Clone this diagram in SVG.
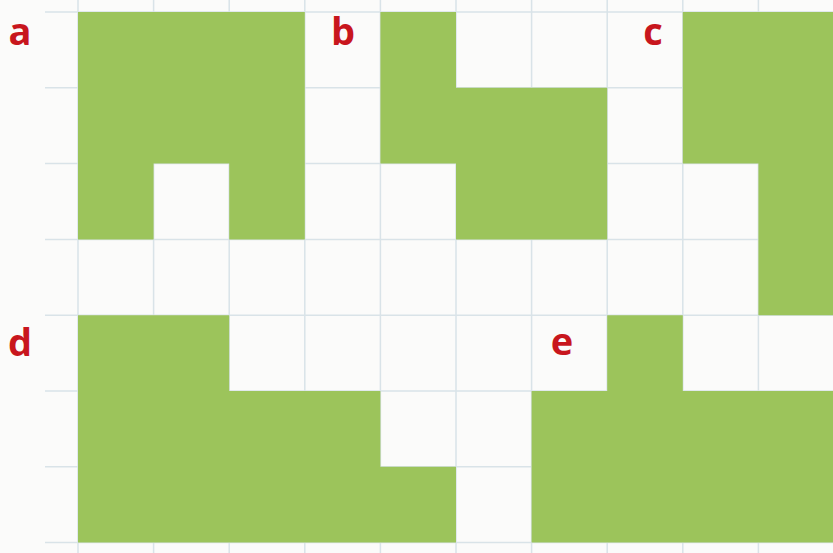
<svg xmlns="http://www.w3.org/2000/svg" width="833" height="553" viewBox="0 0 833 553">
<style>
.grid line{stroke:#d9e3e8;stroke-width:1.5}
.shape{fill:#9cc45b}
.lbl{font-family:"Open Sans","Liberation Sans",sans-serif;font-weight:bold;font-size:38px;fill:#c8161d;text-anchor:middle}
</style>
<rect width="833" height="553" fill="#fbfbfa"/>
<g class="grid" id="grid">
<line x1="45" y1="12" x2="833" y2="12"/>
<line x1="45" y1="87.8" x2="833" y2="87.8"/>
<line x1="45" y1="163.6" x2="833" y2="163.6"/>
<line x1="45" y1="239.4" x2="833" y2="239.4"/>
<line x1="45" y1="315.2" x2="833" y2="315.2"/>
<line x1="45" y1="391" x2="833" y2="391"/>
<line x1="45" y1="466.8" x2="833" y2="466.8"/>
<line x1="45" y1="542.6" x2="833" y2="542.6"/>
<line x1="78" y1="0" x2="78" y2="553"/>
<line x1="153.6" y1="0" x2="153.6" y2="553"/>
<line x1="229.2" y1="0" x2="229.2" y2="553"/>
<line x1="304.8" y1="0" x2="304.8" y2="553"/>
<line x1="380.4" y1="0" x2="380.4" y2="553"/>
<line x1="456" y1="0" x2="456" y2="553"/>
<line x1="531.6" y1="0" x2="531.6" y2="553"/>
<line x1="607.2" y1="0" x2="607.2" y2="553"/>
<line x1="682.8" y1="0" x2="682.8" y2="553"/>
<line x1="758.4" y1="0" x2="758.4" y2="553"/>
</g>
<g id="shape-a"><polygon class="shape" points="78,12 304.8,12 304.8,239.4 229.2,239.4 229.2,163.6 153.6,163.6 153.6,239.4 78,239.4"/><text class="lbl" x="20" y="45">a</text></g>
<g id="shape-b"><polygon class="shape" points="380.4,12 456,12 456,87.8 607.2,87.8 607.2,239.4 456,239.4 456,163.6 380.4,163.6"/><text class="lbl" x="343" y="45">b</text></g>
<g id="shape-c"><polygon class="shape" points="682.8,12 833,12 833,315.2 758.4,315.2 758.4,163.6 682.8,163.6"/><text class="lbl" x="653" y="45">c</text></g>
<g id="shape-d"><polygon class="shape" points="78,315.2 229.2,315.2 229.2,391 380.4,391 380.4,466.8 456,466.8 456,542.6 78,542.6"/><text class="lbl" x="20" y="356">d</text></g>
<g id="shape-e"><polygon class="shape" points="607.2,315.2 682.8,315.2 682.8,391 833,391 833,542.6 531.6,542.6 531.6,391 607.2,391"/><text class="lbl" x="562" y="355">e</text></g>
</svg>
